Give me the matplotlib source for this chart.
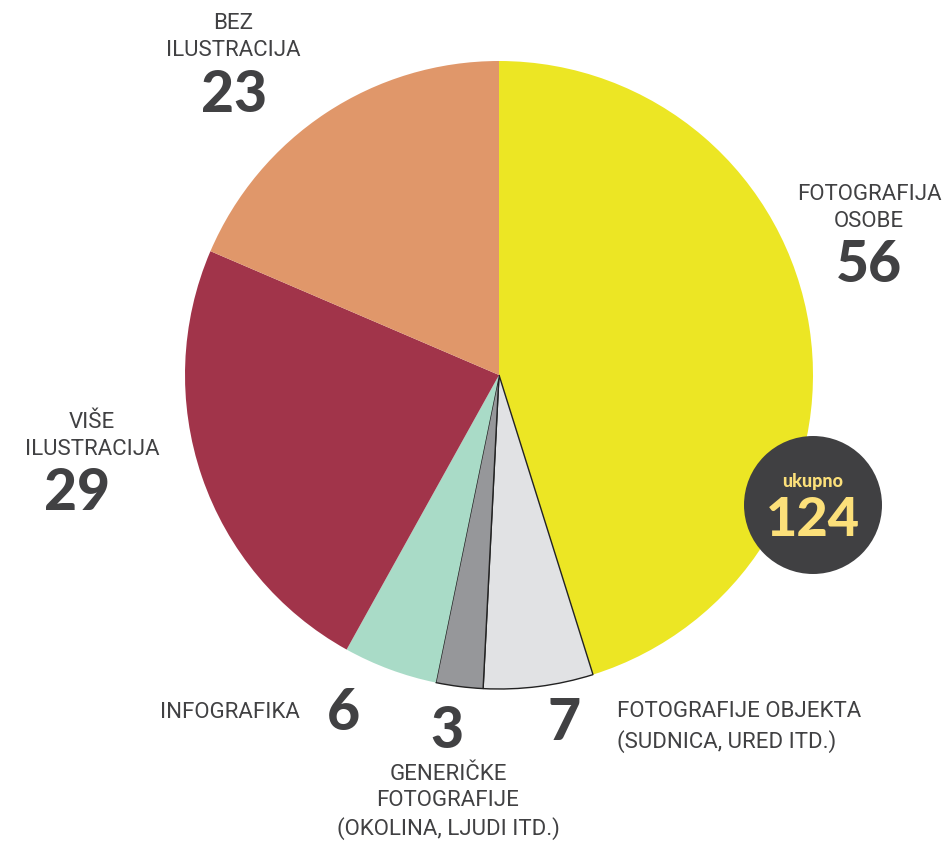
import matplotlib
matplotlib.use("Agg")
import matplotlib.pyplot as plt
from matplotlib.patches import Circle

plt.rcParams['font.family'] = ['Roboto', 'DejaVu Sans']

categories = ["FOTOGRAFIJA\nOSOBE", "FOTOGRAFIJE OBJEKTA\n(SUDNICA, URED ITD.)",
              "GENERIČKE\nFOTOGRAFIJE\n(OKOLINA, LJUDI ITD.)", "INFOGRAFIKA",
              "VIŠE\nILUSTRACIJA", "BEZ\nILUSTRACIJA"]
values = [56, 7, 3, 6, 29, 23]
colors = ["#ECE624", "#E1E2E4", "#96979A", "#A9DBC7", "#A1344A", "#E0976A"]
total_label = "ukupno"
total = sum(values)

W, H = 944, 843
fig = plt.figure(figsize=(W / 100, H / 100), dpi=100)
ax = fig.add_axes([0, 0, 1, 1])
ax.set_xlim(0, W)
ax.set_ylim(0, H)
ax.set_aspect('equal')
ax.axis('off')

def Y(py):
    return H - py

wedges, _ = ax.pie(values, colors=colors, startangle=90, counterclock=False,
                   center=(499, Y(375)), radius=314, frame=True)
for i, w in enumerate(wedges):
    if i in (1, 2):
        w.set_edgecolor("#222222")
        w.set_linewidth(1.0)
    else:
        w.set_edgecolor("none")
ax.set_xlim(0, W)
ax.set_ylim(0, H)
ax.axis('off')

dark = "#414143"
numfam = ['Lato', 'Roboto', 'DejaVu Sans']
lab = dict(color=dark, fontsize=16, ha='center', va='center', linespacing=1.4)
num = dict(color=dark, fontsize=41, fontweight='black', family=numfam,
           ha='center', va='center')

# BEZ ILUSTRACIJA
ax.text(233, Y(37), categories[5], **lab)
ax.text(234, Y(96), str(values[5]), **num)
# FOTOGRAFIJA OSOBE
ax.text(869, Y(208), categories[0], **lab)
ax.text(869, Y(266), str(values[0]), **num)
# VIŠE ILUSTRACIJA
ax.text(92, Y(436), categories[4], **lab)
ax.text(77, Y(493), str(values[4]), **num)
# INFOGRAFIKA
ax.text(300, Y(712), categories[3], color=dark, fontsize=16, ha='right', va='center')
ax.text(343, Y(713), str(values[3]), **num)
# GENERIČKE
ax.text(447, Y(731), str(values[2]), **num)
ax.text(448, Y(802), categories[2], color=dark, fontsize=16, ha='center', va='center',
        linespacing=1.33)
# FOTOGRAFIJE OBJEKTA
ax.text(564, Y(723), str(values[1]), **num)
ax.text(617, Y(727), categories[1], color=dark, fontsize=16, ha='left', va='center',
        linespacing=1.4)

# total badge
ax.add_patch(Circle((813, Y(505)), 69, facecolor="#404042", edgecolor='none', zorder=5))
ax.text(813, Y(482), total_label, color="#FCE07A", fontsize=13, fontweight='black',
        family=numfam, ha='center', va='center', zorder=6)
ax.text(813, Y(520), str(total), color="#FCE07A", fontsize=39, fontweight='black',
        family=numfam, ha='center', va='center', zorder=6)

fig.savefig("out.png", dpi=100)
